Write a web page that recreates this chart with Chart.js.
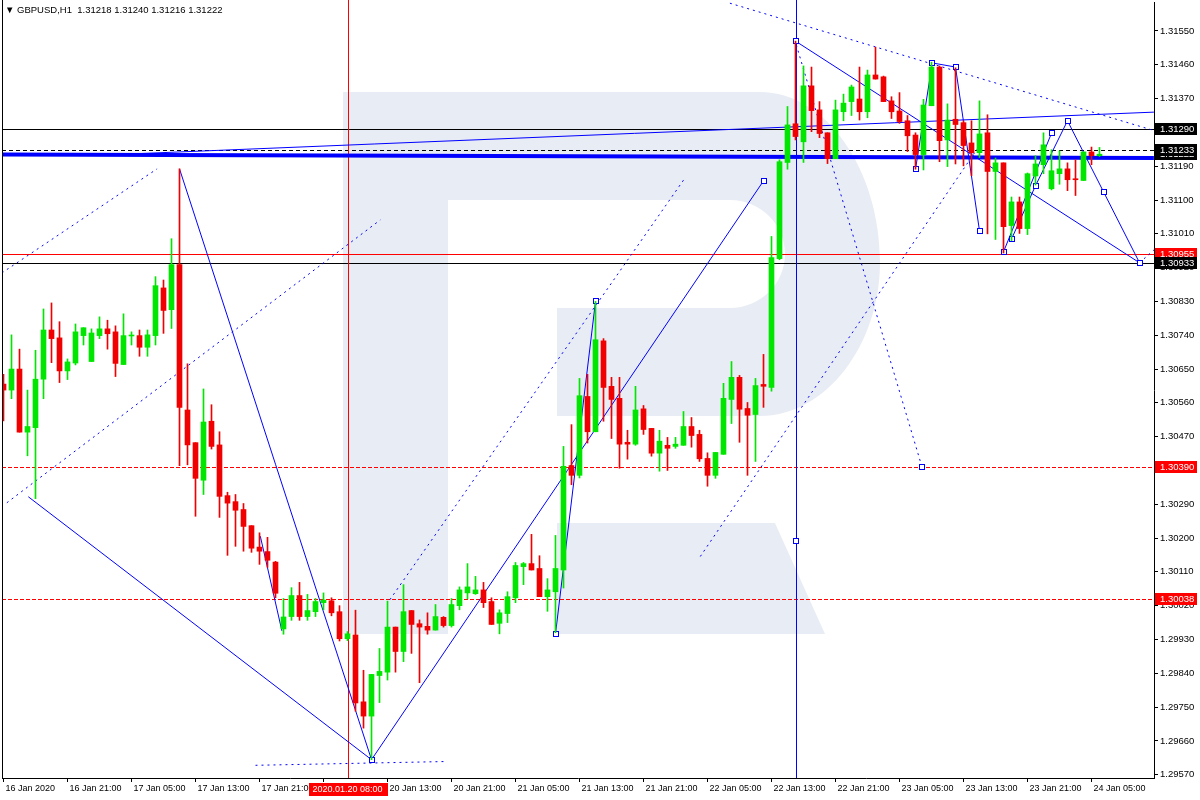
<!DOCTYPE html>
<html>
<head>
<meta charset="utf-8">
<script src="https://cdn.jsdelivr.net/npm/chart.js@4.4.1/dist/chart.umd.min.js"></script>
<style>
  html, body { margin: 0; padding: 0; background: #fff; }
  #wrap { position: relative; width: 1200px; height: 800px; }
  #title { position: absolute; left: 5px; top: 4px; font: 9.5px "Liberation Sans", Arial, sans-serif; color: #000; white-space: pre; }
</style>
</head>
<body>
<div id="wrap">
  <canvas id="chart" width="1200" height="800"></canvas>
  <div id="title">▼ GBPUSD,H1  1.31218 1.31240 1.31216 1.31222</div>
</div>
<script>
// GBPUSD H1 candles, one per hour from 16 Jan 13:00
const opens = [1.30610,1.30594,1.30650,1.30482,1.30494,1.30623,1.30754,1.30733,1.30645,1.30666,
  1.30739,1.30670,1.30739,1.30757,1.30749,1.30662,1.30738,1.30739,1.30708,1.30739,
  1.30866,1.30808,1.30928,1.30541,1.30454,1.30354,1.30511,1.30448,1.30313,1.30297,
  1.30276,1.30233,1.30176,1.30164,1.30136,1.29958,1.29991,1.30047,1.29991,1.30004,
  1.30028,1.30033,1.30004,1.29932,1.29942,1.29764,1.29726,1.29834,1.29843,1.29963,
  1.29898,1.30007,1.29972,1.29965,1.29955,1.29989,1.29967,1.30020,1.30054,1.30052,
  1.30062,1.30031,1.29973,1.29999,1.30041,1.30124,1.30132,1.30119,1.30044,1.30057,
  1.30115,1.30393,1.30367,1.30577,1.30483,1.30725,1.30604,1.30572,1.30455,1.30450,
  1.30544,1.30492,1.30426,1.30447,1.30444,1.30447,1.30497,1.30476,1.30412,1.30367,
  1.30423,1.30569,1.30628,1.30545,1.30529,1.30609,1.30601,1.30944,1.31200,1.31303,
  1.31255,1.31404,1.31340,1.31279,1.31210,1.31335,1.31362,1.31369,1.31335,1.31433,
  1.31428,1.31364,1.31337,1.31311,1.31273,1.31221,1.31351,1.31454,1.31260,1.31315,
  1.31306,1.31252,1.31226,1.31279,1.31176,1.31199,1.31032,1.31095,1.31024,1.31164,
  1.31194,1.31130,1.31170,1.31183,1.31156,1.31152,1.31228,1.31218];
const highs = [1.30636,1.30741,1.30703,1.30594,1.30700,1.30810,1.30826,1.30776,1.30677,1.30770,
  1.30760,1.30757,1.30789,1.30780,1.30765,1.30797,1.30749,1.30754,1.30754,1.30896,
  1.30887,1.30997,1.31183,1.30664,1.30454,1.30597,1.30555,1.30483,1.30322,1.30316,
  1.30292,1.30233,1.30214,1.30202,1.30138,1.30039,1.30068,1.30082,1.30050,1.30039,
  1.30054,1.30041,1.30020,1.29951,1.30008,1.29848,1.29837,1.29906,1.30032,1.29963,
  1.30076,1.30007,1.29982,1.30001,1.30023,1.29991,1.30039,1.30070,1.30132,1.30098,
  1.30082,1.30041,1.30009,1.30057,1.30135,1.30135,1.30210,1.30153,1.30092,1.30207,
  1.30444,1.30502,1.30625,1.30636,1.30830,1.30731,1.30628,1.30628,1.30487,1.30604,
  1.30553,1.30492,1.30487,1.30468,1.30468,1.30537,1.30521,1.30487,1.30427,1.30428,
  1.30612,1.30670,1.30633,1.30561,1.30625,1.30689,1.31003,1.31207,1.31349,1.31523,
  1.31457,1.31454,1.31362,1.31279,1.31366,1.31382,1.31406,1.31454,1.31446,1.31507,
  1.31430,1.31375,1.31386,1.31325,1.31279,1.31368,1.31467,1.31457,1.31356,1.31452,
  1.31311,1.31311,1.31364,1.31327,1.31212,1.31199,1.31108,1.31108,1.31172,1.31218,
  1.31279,1.31234,1.31231,1.31199,1.31207,1.31228,1.31241,1.31240];
const lows = [1.30512,1.30571,1.30482,1.30419,1.30305,1.30571,1.30667,1.30614,1.30622,1.30661,
  1.30714,1.30670,1.30731,1.30703,1.30630,1.30662,1.30714,1.30684,1.30684,1.30714,
  1.30745,1.30758,1.30393,1.30395,1.30258,1.30316,1.30437,1.30255,1.30154,1.30178,
  1.30165,1.30162,1.30130,1.30122,1.30041,1.29944,1.29981,1.29981,1.29981,1.29991,
  1.30009,1.29993,1.29926,1.29927,1.29739,1.29694,1.29610,1.29762,1.29822,1.29843,
  1.29871,1.29893,1.29815,1.29944,1.29955,1.29963,1.29963,1.30009,1.30038,1.30050,
  1.30015,1.29970,1.29945,1.29975,1.30028,1.30076,1.30115,1.30044,1.30005,1.29948,
  1.30067,1.30342,1.30360,1.30453,1.30483,1.30511,1.30465,1.30386,1.30410,1.30447,
  1.30476,1.30418,1.30378,1.30380,1.30439,1.30447,1.30442,1.30404,1.30338,1.30359,
  1.30423,1.30505,1.30455,1.30367,1.30404,1.30548,1.30591,1.30941,1.31182,1.31260,
  1.31200,1.31282,1.31266,1.31197,1.31210,1.31311,1.31325,1.31313,1.31319,1.31422,
  1.31362,1.31317,1.31304,1.31229,1.31182,1.31180,1.31351,1.31202,1.31189,1.31196,
  1.31191,1.31165,1.31213,1.31010,1.30995,1.30959,1.30992,1.31011,1.31008,1.31140,
  1.31170,1.31127,1.31142,1.31125,1.31112,1.31152,1.31194,1.31216];
const closes = [1.30594,1.30650,1.30482,1.30497,1.30623,1.30754,1.30731,1.30645,1.30669,1.30749,
  1.30760,1.30746,1.30757,1.30744,1.30665,1.30739,1.30739,1.30708,1.30741,1.30872,
  1.30806,1.30928,1.30548,1.30448,1.30359,1.30509,1.30444,1.30311,1.30293,1.30274,
  1.30231,1.30173,1.30165,1.30141,1.30053,1.29990,1.30047,1.29991,1.30007,1.30031,
  1.30035,1.30001,1.29932,1.29945,1.29761,1.29726,1.29837,1.29845,1.29963,1.29898,
  1.30004,1.29970,1.29963,1.29955,1.29991,1.29967,1.30023,1.30062,1.30070,1.30062,
  1.30028,1.29970,1.30001,1.30044,1.30127,1.30132,1.30115,1.30044,1.30062,1.30119,
  1.30391,1.30367,1.30579,1.30483,1.30728,1.30601,1.30569,1.30450,1.30450,1.30541,
  1.30489,1.30426,1.30458,1.30439,1.30450,1.30497,1.30473,1.30411,1.30367,1.30428,
  1.30572,1.30628,1.30543,1.30527,1.30606,1.30604,1.30947,1.31202,1.31300,1.31269,
  1.31404,1.31338,1.31277,1.31210,1.31340,1.31358,1.31401,1.31335,1.31433,1.31422,
  1.31362,1.31335,1.31309,1.31271,1.31221,1.31353,1.31454,1.31258,1.31313,1.31301,
  1.31245,1.31226,1.31276,1.31176,1.31199,1.31029,1.31095,1.31024,1.31170,1.31196,
  1.31247,1.31178,1.31183,1.31154,1.31154,1.31228,1.31218,1.31222];

const xTickIdx = [0, 8, 16, 24, 32, 40, 48, 56, 64, 72, 80, 88, 96, 104, 112, 120, 128, 136];
const xTickLabels = ['16 Jan 2020', '16 Jan 21:00', '17 Jan 05:00', '17 Jan 13:00', '17 Jan 21:00',
  '20 Jan 05:00', '20 Jan 13:00', '20 Jan 21:00', '21 Jan 05:00', '21 Jan 13:00', '21 Jan 21:00',
  '22 Jan 05:00', '22 Jan 13:00', '22 Jan 21:00', '23 Jan 05:00', '23 Jan 13:00', '23 Jan 21:00', '24 Jan 05:00'];
const yTicks = [1.31550, 1.31460, 1.31370, 1.31280, 1.31190, 1.31100, 1.31010, 1.30920, 1.30830,
  1.30740, 1.30650, 1.30560, 1.30470, 1.30380, 1.30290, 1.30200, 1.30110, 1.30020, 1.29930,
  1.29840, 1.29750, 1.29660, 1.29570];

// horizontal levels and the price tags on the right
const levels = [1.31290, 1.31233, 1.30955, 1.30933, 1.30390, 1.30038];
const tagPrices = [1.31222, 1.31233, 1.31290, 1.30955, 1.30933, 1.30390, 1.30038];
const crossIdx = [43, 99];
const crossLabel = '2020.01.20 08:00';

// drawn objects, as [bar index, price]
const thickLine = [[-0.4, 1.31221], [143.8, 1.31212]];
const solidLines = [
  [[3.1, 1.30310], [46, 1.29610]],
  [[22, 1.31183], [46, 1.29610]],
  [[32.1, 1.30205], [34.8, 1.29953]],
  [[46, 1.29610], [95, 1.31151]],
  [[69, 1.29945], [74, 1.30830]],
  [[99, 1.31523], [142, 1.30933]],
  [[114, 1.31182], [116.1, 1.31465], [119, 1.31454], [122, 1.31018]],
  [[125, 1.30962], [131, 1.31278]],
  [[126, 1.30996], [129, 1.31138], [133, 1.31311], [137.5, 1.31122], [142, 1.30933]],
  [[13.96, 1.31221], [143.8, 1.31334]]
];
const dottedLines = [
  [[-0.2, 1.30906], [19.2, 1.31183]],
  [[0.42, 1.30294], [47.1, 1.31047]],
  [[48.3, 1.30036], [85.2, 1.31159]],
  [[87.1, 1.30151], [121.8, 1.31239]],
  [[90.8, 1.31624], [143.8, 1.31285]],
  [[99.1, 1.31513], [114.8, 1.30390]],
  [[31.5, 1.29595], [55.2, 1.29605]],
  [[142, 1.30933], [143.8, 1.30967]]
];
const markers = [[46, 1.29610], [69, 1.29945], [74, 1.30830], [95, 1.31151], [99, 1.31523],
  [99, 1.30193], [114, 1.31182], [116.1, 1.31465], [119, 1.31454], [122, 1.31018],
  [114.8, 1.30390], [125, 1.30962], [126, 1.30996], [129, 1.31138], [131, 1.31278],
  [133, 1.31311], [137.5, 1.31122], [142, 1.30933]];

const UP = '#00e600', DOWN = '#f00000', BLUE = '#0000ff';
const FONT = '"Liberation Sans", Arial, sans-serif';

const candleColors = opens.map((o, i) => closes[i] >= o ? UP : DOWN);
const wickData = opens.map((o, i) => ({ x: i, y: [lows[i], highs[i]] }));
const bodyData = opens.map((o, i) => ({ x: i, y: [o, closes[i]] }));

function drawLogo(ctx) {
  ctx.save();
  ctx.fillStyle = '#e8ecf4';
  ctx.fillRect(343, 92, 105, 542);
  ctx.beginPath();
  ctx.moveTo(448, 92);
  ctx.lineTo(760, 92);
  ctx.bezierCurveTo(826, 92, 880, 170, 880, 262);
  ctx.bezierCurveTo(880, 345, 826, 416, 760, 416);
  ctx.lineTo(557, 416);
  ctx.lineTo(557, 308);
  ctx.lineTo(730, 308);
  ctx.bezierCurveTo(760, 308, 785, 284, 785, 254);
  ctx.bezierCurveTo(785, 224, 760, 200, 730, 200);
  ctx.lineTo(448, 200);
  ctx.closePath();
  ctx.fill();
  ctx.beginPath();
  ctx.moveTo(557, 523);
  ctx.lineTo(775, 523);
  ctx.lineTo(825, 634);
  ctx.lineTo(557, 634);
  ctx.closePath();
  ctx.fill();
  ctx.restore();
}

function strokePath(chart, pts) {
  const ctx = chart.ctx, sx = chart.scales.x, sy = chart.scales.y;
  ctx.beginPath();
  pts.forEach(([i, p], n) => {
    const x = sx.getPixelForValue(i), y = sy.getPixelForValue(p);
    if (n) ctx.lineTo(x, y); else ctx.moveTo(x, y);
  });
  ctx.stroke();
}

const objects = {
  id: 'objects',
  beforeDatasetsDraw(chart) {
    const ctx = chart.ctx, a = chart.chartArea;
    const sx = chart.scales.x, sy = chart.scales.y;
    ctx.save();
    ctx.beginPath();
    ctx.rect(a.left, 0, a.right - a.left, a.bottom);
    ctx.clip();
    drawLogo(ctx);

    // horizontal levels
    const levelColor = ['#000', '#000', '#f00', '#000', '#f00', '#f00'];
    const levelDash = [[], [4, 3], [], [], [4, 2], [4, 2]];
    levels.forEach((p, n) => {
      const y = Math.round(sy.getPixelForValue(p)) + 0.5;
      ctx.strokeStyle = levelColor[n];
      ctx.lineWidth = 1;
      ctx.setLineDash(levelDash[n]);
      ctx.beginPath();
      ctx.moveTo(a.left, y);
      ctx.lineTo(a.right, y);
      ctx.stroke();
    });
    ctx.setLineDash([]);

    // crosshair verticals
    ['#f00', BLUE].forEach((c, n) => {
      const x = Math.round(sx.getPixelForValue(crossIdx[n])) + 0.5;
      ctx.strokeStyle = c;
      ctx.beginPath();
      ctx.moveTo(x, 0);
      ctx.lineTo(x, a.bottom);
      ctx.stroke();
    });

    ctx.strokeStyle = BLUE;
    ctx.lineWidth = 4;
    strokePath(chart, thickLine);
    ctx.lineWidth = 1;
    solidLines.forEach(l => strokePath(chart, l));
    ctx.setLineDash([2, 4]);
    dottedLines.forEach(l => strokePath(chart, l));
    ctx.setLineDash([]);

    markers.forEach(([i, p]) => {
      const x = Math.round(sx.getPixelForValue(i)), y = Math.round(sy.getPixelForValue(p));
      ctx.fillStyle = '#fff';
      ctx.fillRect(x - 3, y - 3, 6, 6);
      ctx.strokeRect(x - 2.5, y - 2.5, 5, 5);
    });
    ctx.restore();
  },
  afterDraw(chart) {
    const ctx = chart.ctx, a = chart.chartArea;
    const sx = chart.scales.x, sy = chart.scales.y;
    ctx.save();
    // left frame
    ctx.strokeStyle = '#000';
    ctx.beginPath();
    ctx.moveTo(a.left + 0.5, 0);
    ctx.lineTo(a.left + 0.5, a.bottom);
    ctx.stroke();

    // price tags
    const tagColor = ['#000', '#000', '#000', '#f00', '#000', '#f00', '#f00'];
    ctx.font = '9.5px ' + FONT;
    ctx.textBaseline = 'middle';
    ctx.textAlign = 'left';
    tagPrices.forEach((p, n) => {
      const y = Math.round(sy.getPixelForValue(p));
      ctx.fillStyle = tagColor[n];
      ctx.fillRect(a.right + 1, y - 6, 42, 12);
      ctx.fillStyle = '#fff';
      ctx.fillText(p.toFixed(5), a.right + 6, y);
    });

    // crosshair time label
    const cx = sx.getPixelForValue(crossIdx[0]);
    ctx.fillStyle = '#f00';
    ctx.fillRect(Math.round(cx) - 39, a.bottom + 5, 79, 13);
    ctx.fillStyle = '#fff';
    ctx.font = '9px ' + FONT;
    ctx.textAlign = 'center';
    ctx.fillText(crossLabel, cx, a.bottom + 11.5);
    ctx.restore();
  }
};

Chart.defaults.font.family = FONT;
Chart.defaults.color = '#000';

new Chart(document.getElementById('chart'), {
  type: 'bar',
  data: {
    datasets: [
      { data: wickData, backgroundColor: candleColors, barThickness: 1, grouped: false, order: 2 },
      { data: bodyData, backgroundColor: candleColors, barThickness: 5, grouped: false, minBarLength: 1, order: 1 }
    ]
  },
  options: {
    responsive: false,
    animation: false,
    devicePixelRatio: 1,
    layout: { padding: { left: 2, top: 2, right: 0, bottom: 0 } },
    plugins: { legend: { display: false }, tooltip: { enabled: false } },
    scales: {
      x: {
        type: 'linear',
        offset: false,
        min: -0.1875,
        max: 143.8125,
        afterBuildTicks: s => { s.ticks = xTickIdx.map(v => ({ value: v })); },
        afterFit: s => { s.height = 22; s.paddingLeft = 0; s.paddingRight = 0; },
        grid: { offset: false, drawOnChartArea: false, tickLength: 4, color: '#000' },
        border: { display: true, color: '#000' },
        ticks: {
          autoSkip: false, maxRotation: 0, align: 'start', labelOffset: 2, padding: 1,
          font: { size: 9 },
          callback: v => xTickLabels[xTickIdx.indexOf(v)]
        }
      },
      y: {
        position: 'right',
        min: 1.295612,
        max: 1.316272,
        afterBuildTicks: s => { s.ticks = yTicks.map(v => ({ value: v })); },
        afterFit: s => { s.width = 46; s.paddingTop = 0; s.paddingBottom = 0; },
        grid: { drawOnChartArea: false, tickLength: 4, color: '#000' },
        border: { display: true, color: '#000' },
        ticks: { padding: 2, font: { size: 9.5 }, callback: v => v.toFixed(5) }
      }
    }
  },
  plugins: [objects]
});
</script>
</body>
</html>
